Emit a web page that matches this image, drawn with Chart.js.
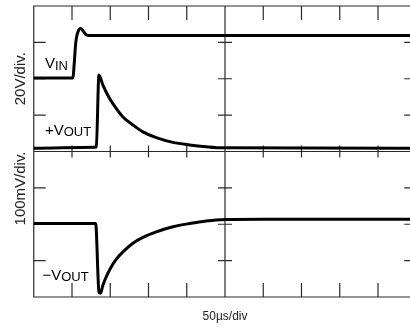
<!DOCTYPE html>
<html>
<head>
<meta charset="utf-8">
<script src="https://cdn.jsdelivr.net/npm/chart.js@4.4.0/dist/chart.umd.min.js"></script>
<style>
  html, body { margin: 0; padding: 0; background: #fff; overflow: hidden; }
  #wrap { width: 410px; height: 327px; overflow: hidden; }
  canvas { display: block; }
</style>
</head>
<body>
<div id="wrap"><canvas id="scope" width="417" height="327"></canvas></div>
<script>
// ---- time base: 50 µs/div, 10 divisions ----
const timeDivisions = [0, 50, 100, 150, 200, 250, 300, 350, 400, 450, 500];

// ---- upper trace area: 20 V/div ----
const topAxisTicks = [-2, 18, 38, 58, 78];
const vinTime  = [0, 51.3, 52.5, 54, 54.8, 56.5, 57.8, 61, 64.4, 67.9, 72, 500];
const vinVolts = [38.4, 38.4, 44, 53, 57.4, 62, 63.8, 65.6, 64.4, 62.4, 61.8, 61.8];

const voutPosTime  = [0, 80, 81.8, 85.2, 90.5, 99.2, 108, 116.6, 129.6, 142.7, 160.2, 181.9, 203.7, 225.4, 247.1, 500];
const voutPosVolts = [-0.2, 0.4, 0.6, 40, 34.4, 27.2, 21.6, 17, 12.6, 8.8, 5.6, 3, 1.6, 0.6, 0, -0.2];

// ---- lower trace area: 100 mV/div ----
const bottomAxisTicks = [-200, -100, 0, 100, 200];
const voutNegTime = [0, 80.9, 85.2, 87.1, 90.5, 94.9, 101.4, 108, 116.6, 129.6, 142.7, 160.2, 181.9, 203.7, 225.4, 251.6, 300, 500];
const voutNegMillivolts = [2, 2, -185, -190, -167, -144, -117, -96, -76, -52, -36, -21, -7, 2, 9, 13, 14, 14];

// ---- text ----
const xAxisTitle = '50µs/div';
const topAxisTitle = '20V/div.';
const bottomAxisTitle = '100mV/div.';
const traceNames = ['V', '+V', '\u2212V'];
const traceSubs  = ['IN', 'OUT', 'OUT'];

const FONT = '"Liberation Sans", Arial, Helvetica, sans-serif';

const toXY = (xs, ys) => xs.map((x, i) => ({ x: x, y: ys[i] }));

const graticule = {
  id: 'graticule',
  beforeDatasetsDraw(chart) {
    const { ctx, chartArea, scales } = chart;
    const { left, right, top, bottom } = chartArea;
    const x = scales.x, yT = scales.yTop, yB = scales.yBottom;
    const cx = x.getPixelForValue(250);
    const cy = yB.getPixelForValue(200);
    ctx.save();
    ctx.strokeStyle = '#2a2a2a';
    ctx.lineWidth = 1.2;
    ctx.beginPath();
    ctx.rect(left, top, right - left, bottom - top);
    ctx.moveTo(cx, top); ctx.lineTo(cx, bottom);
    ctx.moveTo(left, cy); ctx.lineTo(right, cy);
    // time ticks
    timeDivisions.slice(1, -1).forEach(t => {
      const px = x.getPixelForValue(t);
      ctx.moveTo(px, top); ctx.lineTo(px, top + 14);
      ctx.moveTo(px, bottom - 14); ctx.lineTo(px, bottom);
      ctx.moveTo(px, cy - 6); ctx.lineTo(px, cy + 6);
    });
    // amplitude ticks
    const yPix = [];
    topAxisTicks.slice(1, -1).forEach(v => yPix.push(yT.getPixelForValue(v)));
    bottomAxisTicks.slice(1, -1).forEach(v => yPix.push(yB.getPixelForValue(v)));
    yPix.forEach(py => {
      ctx.moveTo(left, py); ctx.lineTo(left + 12, py);
      ctx.moveTo(right - 12, py); ctx.lineTo(right, py);
      ctx.moveTo(cx - 7, py); ctx.lineTo(cx + 7, py);
    });
    ctx.stroke();
    ctx.restore();
  }
};

const traceLabels = {
  id: 'traceLabels',
  afterDatasetsDraw(chart) {
    const { ctx, scales } = chart;
    const x = scales.x, yT = scales.yTop, yB = scales.yBottom;
    const anchors = [
      [x.getPixelForValue(14.7), yT.getPixelForValue(43.9)],
      [x.getPixelForValue(14.7), yT.getPixelForValue(7.1)],
      [x.getPixelForValue(11.4), yB.getPixelForValue(-153)]
    ];
    ctx.save();
    ctx.fillStyle = '#000';
    ctx.textBaseline = 'alphabetic';
    ctx.textAlign = 'left';
    anchors.forEach((a, i) => {
      ctx.font = '15px ' + FONT;
      ctx.fillText(traceNames[i], a[0], a[1]);
      const w = ctx.measureText(traceNames[i]).width;
      ctx.font = '13px ' + FONT;
      ctx.fillText(traceSubs[i], a[0] + w, a[1] + 1.5);
    });
    ctx.restore();
  }
};

const hiddenAxis = () => ({
  grid: { display: false, drawTicks: false, tickLength: 0 },
  border: { display: false },
  ticks: { display: false }
});

new Chart(document.getElementById('scope'), {
  type: 'line',
  data: {
    datasets: [
      { label: 'VIN', data: toXY(vinTime, vinVolts), yAxisID: 'yTop' },
      { label: '+VOUT', data: toXY(voutPosTime, voutPosVolts), yAxisID: 'yTop' },
      { label: '-VOUT', data: toXY(voutNegTime, voutNegMillivolts), yAxisID: 'yBottom' }
    ]
  },
  options: {
    responsive: false,
    animation: false,
    devicePixelRatio: 1,
    layout: { padding: { left: 7.75, top: 6, right: 0.75, bottom: 2.8 } },
    elements: {
      point: { radius: 0, hoverRadius: 0 },
      line: {
        borderColor: '#000', borderWidth: 3, fill: false,
        cubicInterpolationMode: 'monotone', borderJoinStyle: 'round', borderCapStyle: 'round'
      }
    },
    plugins: { legend: { display: false }, tooltip: { enabled: false } },
    scales: {
      x: Object.assign(hiddenAxis(), {
        type: 'linear', min: timeDivisions[0], max: timeDivisions[timeDivisions.length - 1],
        title: { display: true, text: xAxisTitle, color: '#222',
                 font: { size: 12, family: FONT }, padding: { top: 12.8, bottom: 0 } }
      }),
      yBottom: Object.assign(hiddenAxis(), {
        type: 'linear', position: 'left', stack: 'scope', stackWeight: 1,
        min: bottomAxisTicks[0], max: bottomAxisTicks[bottomAxisTicks.length - 1],
        title: { display: true, text: bottomAxisTitle, align: 'end', color: '#222',
                 font: { size: 15, family: FONT }, padding: { top: 4, bottom: 4 } }
      }),
      yTop: Object.assign(hiddenAxis(), {
        type: 'linear', position: 'left', stack: 'scope', stackWeight: 1,
        min: topAxisTicks[0], max: topAxisTicks[topAxisTicks.length - 1],
        title: { display: true, text: topAxisTitle, color: '#222',
                 font: { size: 15, family: FONT }, padding: { top: 4, bottom: 4 } }
      })
    }
  },
  plugins: [graticule, traceLabels]
});
</script>
</body>
</html>
